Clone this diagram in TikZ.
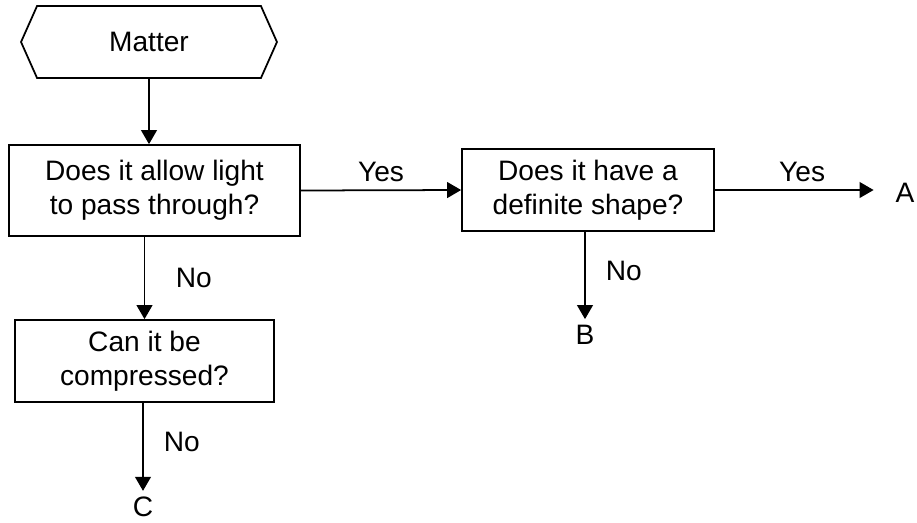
\documentclass[tikz,border=0pt]{standalone}
\usepackage{fontspec}
\setmainfont{Liberation Sans}
\usetikzlibrary{arrows.meta,shapes.symbols}

\begin{document}
\begin{tikzpicture}[x=0.02cm,y=-0.02cm,
  font=\fontsize{16}{19.5}\selectfont,
  box/.style={draw,line width=1pt,align=center,inner sep=0pt},
  arr/.style={line width=1pt,-{Triangle[length=8pt,width=9pt]}}]
\useasboundingbox (0,0) rectangle (917,522);

\node[draw,line width=1pt,signal,signal to=west and east,signal pointer angle=132,
      minimum width=5.12cm,minimum height=1.44cm,inner sep=0pt] at (149,42) (matter) {Matter};

\node[box,minimum width=5.82cm,minimum height=1.82cm] at (154.5,190.5) (light) {Does it allow light\\to pass through?};
\node[box,minimum width=5.04cm,minimum height=1.64cm] at (588,190) (shape) {Does it have a\\definite shape?};
\node[box,minimum width=5.18cm,minimum height=1.64cm] at (144.5,361) (compress) {Can it be\\compressed?};

\node at (905,193) (A) {A};
\node at (585,335) (B) {B};
\node at (143,507) (C) {C};

\draw[arr] (matter.south) -- (matter.south |- light.north);
\draw[arr] (light.east) -- (shape.west) node[pos=0.5,above=1pt] {Yes};
\draw[arr] (shape.east) -- (shape.east -| A.west) [shorten >=9pt] node[pos=0.5,above=1pt] {Yes};
\draw[arr] (B |- shape.south) -- (B.north) node[pos=0.45,right=8pt] {No};
\draw[arr] (compress.north |- light.south) -- (compress.north) node[pos=0.5,right=14pt] {No};
\draw[arr] (compress.south -| C) -- (C.north) node[pos=0.45,right=8pt] {No};

\end{tikzpicture}
\end{document}
